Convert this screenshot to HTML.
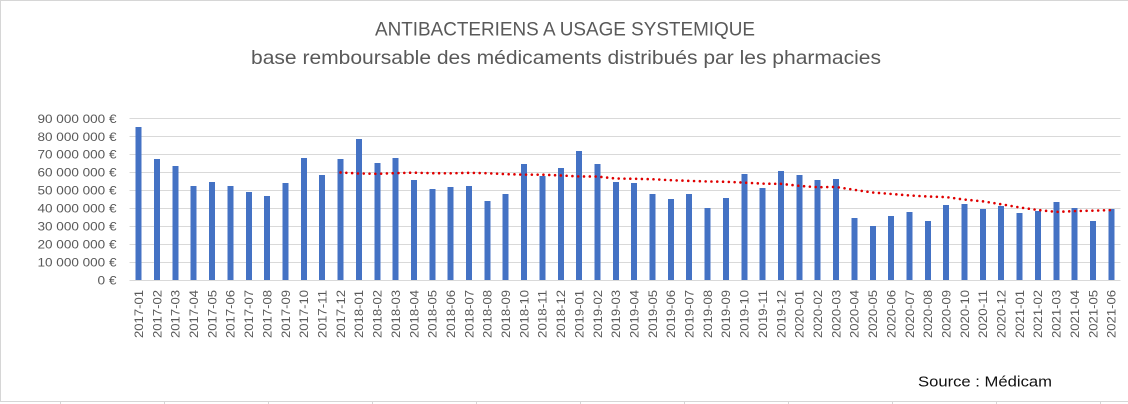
<!DOCTYPE html>
<html><head><meta charset="utf-8"><style>
html,body{margin:0;padding:0;background:#fff;}
svg{display:block;}
</style></head><body>
<svg width="1128" height="404" viewBox="0 0 1128 404" xmlns="http://www.w3.org/2000/svg">
<rect x="0" y="0" width="1128" height="404" fill="#fff"/>
<g stroke="#d6d6d6" stroke-width="1" shape-rendering="crispEdges">
<line x1="0" y1="0.5" x2="1128" y2="0.5"/>
<line x1="0.5" y1="0" x2="0.5" y2="402"/>
<line x1="0" y1="401.5" x2="1128" y2="401.5"/>
<line x1="60.5" y1="401" x2="60.5" y2="404"/>
<line x1="164.5" y1="401" x2="164.5" y2="404"/>
<line x1="268.5" y1="401" x2="268.5" y2="404"/>
<line x1="372.5" y1="401" x2="372.5" y2="404"/>
<line x1="476.5" y1="401" x2="476.5" y2="404"/>
<line x1="580.5" y1="401" x2="580.5" y2="404"/>
<line x1="684.5" y1="401" x2="684.5" y2="404"/>
<line x1="788.5" y1="401" x2="788.5" y2="404"/>
<line x1="892.5" y1="401" x2="892.5" y2="404"/>
<line x1="996.5" y1="401" x2="996.5" y2="404"/>
<line x1="1100.5" y1="401" x2="1100.5" y2="404"/>
</g>
<g font-family="'Liberation Sans', Arial, sans-serif" fill="#595959" text-anchor="middle">
<text x="565" y="35.5" font-size="19.5" textLength="380" lengthAdjust="spacingAndGlyphs">ANTIBACTERIENS A USAGE SYSTEMIQUE</text>
<text x="566" y="64" font-size="19.5" textLength="630" lengthAdjust="spacingAndGlyphs">base remboursable des médicaments distribués par les pharmacies</text>
</g>
<g stroke="#d9d9d9" stroke-width="1" shape-rendering="crispEdges">
<line x1="129.5" y1="118.5" x2="1120.5" y2="118.5"/>
<line x1="129.5" y1="136.5" x2="1120.5" y2="136.5"/>
<line x1="129.5" y1="154.5" x2="1120.5" y2="154.5"/>
<line x1="129.5" y1="172.5" x2="1120.5" y2="172.5"/>
<line x1="129.5" y1="190.5" x2="1120.5" y2="190.5"/>
<line x1="129.5" y1="208.5" x2="1120.5" y2="208.5"/>
<line x1="129.5" y1="226.5" x2="1120.5" y2="226.5"/>
<line x1="129.5" y1="244.5" x2="1120.5" y2="244.5"/>
<line x1="129.5" y1="262.5" x2="1120.5" y2="262.5"/>
<line x1="129.5" y1="280.5" x2="1120.5" y2="280.5"/>
</g>
<g font-family="'Liberation Sans', Arial, sans-serif" font-size="12" fill="#595959" text-anchor="end">
<text x="116.5" y="122.8" textLength="79" lengthAdjust="spacingAndGlyphs">90 000 000 €</text>
<text x="116.5" y="140.8" textLength="79" lengthAdjust="spacingAndGlyphs">80 000 000 €</text>
<text x="116.5" y="158.7" textLength="79" lengthAdjust="spacingAndGlyphs">70 000 000 €</text>
<text x="116.5" y="176.7" textLength="79" lengthAdjust="spacingAndGlyphs">60 000 000 €</text>
<text x="116.5" y="194.6" textLength="79" lengthAdjust="spacingAndGlyphs">50 000 000 €</text>
<text x="116.5" y="212.5" textLength="79" lengthAdjust="spacingAndGlyphs">40 000 000 €</text>
<text x="116.5" y="230.5" textLength="79" lengthAdjust="spacingAndGlyphs">30 000 000 €</text>
<text x="116.5" y="248.4" textLength="79" lengthAdjust="spacingAndGlyphs">20 000 000 €</text>
<text x="116.5" y="266.4" textLength="79" lengthAdjust="spacingAndGlyphs">10 000 000 €</text>
<text x="116.5" y="284.3" textLength="19" lengthAdjust="spacingAndGlyphs">0 €</text>
</g>
<g fill="#4472C4" shape-rendering="crispEdges">
<rect x="135.68" y="127" width="6" height="153"/>
<rect x="154.03" y="159" width="6" height="121"/>
<rect x="172.38" y="166" width="6" height="114"/>
<rect x="190.74" y="186" width="6" height="94"/>
<rect x="209.09" y="182" width="6" height="98"/>
<rect x="227.44" y="186" width="6" height="94"/>
<rect x="245.79" y="192" width="6" height="88"/>
<rect x="264.14" y="196" width="6" height="84"/>
<rect x="282.50" y="183" width="6" height="97"/>
<rect x="300.85" y="158" width="6" height="122"/>
<rect x="319.20" y="175" width="6" height="105"/>
<rect x="337.55" y="159" width="6" height="121"/>
<rect x="355.90" y="139" width="6" height="141"/>
<rect x="374.26" y="163" width="6" height="117"/>
<rect x="392.61" y="158" width="6" height="122"/>
<rect x="410.96" y="180" width="6" height="100"/>
<rect x="429.31" y="189" width="6" height="91"/>
<rect x="447.66" y="187" width="6" height="93"/>
<rect x="466.02" y="186" width="6" height="94"/>
<rect x="484.37" y="201" width="6" height="79"/>
<rect x="502.72" y="194" width="6" height="86"/>
<rect x="521.07" y="164" width="6" height="116"/>
<rect x="539.42" y="176" width="6" height="104"/>
<rect x="557.78" y="168" width="6" height="112"/>
<rect x="576.13" y="151" width="6" height="129"/>
<rect x="594.48" y="164" width="6" height="116"/>
<rect x="612.83" y="182" width="6" height="98"/>
<rect x="631.18" y="183" width="6" height="97"/>
<rect x="649.54" y="194" width="6" height="86"/>
<rect x="667.89" y="199" width="6" height="81"/>
<rect x="686.24" y="194" width="6" height="86"/>
<rect x="704.59" y="208" width="6" height="72"/>
<rect x="722.94" y="198" width="6" height="82"/>
<rect x="741.30" y="174" width="6" height="106"/>
<rect x="759.65" y="188" width="6" height="92"/>
<rect x="778.00" y="171" width="6" height="109"/>
<rect x="796.35" y="175" width="6" height="105"/>
<rect x="814.70" y="180" width="6" height="100"/>
<rect x="833.06" y="179" width="6" height="101"/>
<rect x="851.41" y="218" width="6" height="62"/>
<rect x="869.76" y="226" width="6" height="54"/>
<rect x="888.11" y="216" width="6" height="64"/>
<rect x="906.46" y="212" width="6" height="68"/>
<rect x="924.82" y="221" width="6" height="59"/>
<rect x="943.17" y="205" width="6" height="75"/>
<rect x="961.52" y="204" width="6" height="76"/>
<rect x="979.87" y="209" width="6" height="71"/>
<rect x="998.22" y="206" width="6" height="74"/>
<rect x="1016.58" y="213" width="6" height="67"/>
<rect x="1034.93" y="211" width="6" height="69"/>
<rect x="1053.28" y="202" width="6" height="78"/>
<rect x="1071.63" y="208" width="6" height="72"/>
<rect x="1089.98" y="221" width="6" height="59"/>
<rect x="1108.34" y="209" width="6" height="71"/>
</g>
<polyline fill="none" stroke="#E00000" stroke-width="2.6" stroke-linecap="round" stroke-dasharray="0 5.8" points="340.55,172.47 358.90,173.47 377.26,173.80 395.61,173.11 413.96,172.63 432.31,173.20 450.66,173.29 469.02,172.79 487.37,173.20 505.72,174.12 524.07,174.62 542.42,174.69 560.78,175.45 579.13,176.43 597.48,176.52 615.83,178.51 634.18,178.76 652.54,179.19 670.89,180.18 689.24,180.85 707.59,181.44 725.94,181.76 744.30,182.60 762.65,183.61 781.00,183.84 799.35,185.85 817.70,187.20 836.06,186.93 854.41,189.83 872.76,192.49 891.11,193.92 909.46,195.41 927.82,196.49 946.17,197.06 964.52,199.57 982.87,201.31 1001.22,204.24 1019.58,207.41 1037.93,209.98 1056.28,211.90 1074.63,211.07 1092.98,210.66 1111.34,210.07"/>
<g font-family="'Liberation Sans', Arial, sans-serif" font-size="12" fill="#595959" text-anchor="end">
<text transform="translate(143.0,290) rotate(-90)" textLength="48" lengthAdjust="spacingAndGlyphs">2017-01</text>
<text transform="translate(161.3,290) rotate(-90)" textLength="48" lengthAdjust="spacingAndGlyphs">2017-02</text>
<text transform="translate(179.7,290) rotate(-90)" textLength="48" lengthAdjust="spacingAndGlyphs">2017-03</text>
<text transform="translate(198.0,290) rotate(-90)" textLength="48" lengthAdjust="spacingAndGlyphs">2017-04</text>
<text transform="translate(216.4,290) rotate(-90)" textLength="48" lengthAdjust="spacingAndGlyphs">2017-05</text>
<text transform="translate(234.7,290) rotate(-90)" textLength="48" lengthAdjust="spacingAndGlyphs">2017-06</text>
<text transform="translate(253.1,290) rotate(-90)" textLength="48" lengthAdjust="spacingAndGlyphs">2017-07</text>
<text transform="translate(271.4,290) rotate(-90)" textLength="48" lengthAdjust="spacingAndGlyphs">2017-08</text>
<text transform="translate(289.8,290) rotate(-90)" textLength="48" lengthAdjust="spacingAndGlyphs">2017-09</text>
<text transform="translate(308.1,290) rotate(-90)" textLength="48" lengthAdjust="spacingAndGlyphs">2017-10</text>
<text transform="translate(326.5,290) rotate(-90)" textLength="48" lengthAdjust="spacingAndGlyphs">2017-11</text>
<text transform="translate(344.9,290) rotate(-90)" textLength="48" lengthAdjust="spacingAndGlyphs">2017-12</text>
<text transform="translate(363.2,290) rotate(-90)" textLength="48" lengthAdjust="spacingAndGlyphs">2018-01</text>
<text transform="translate(381.6,290) rotate(-90)" textLength="48" lengthAdjust="spacingAndGlyphs">2018-02</text>
<text transform="translate(399.9,290) rotate(-90)" textLength="48" lengthAdjust="spacingAndGlyphs">2018-03</text>
<text transform="translate(418.3,290) rotate(-90)" textLength="48" lengthAdjust="spacingAndGlyphs">2018-04</text>
<text transform="translate(436.6,290) rotate(-90)" textLength="48" lengthAdjust="spacingAndGlyphs">2018-05</text>
<text transform="translate(455.0,290) rotate(-90)" textLength="48" lengthAdjust="spacingAndGlyphs">2018-06</text>
<text transform="translate(473.3,290) rotate(-90)" textLength="48" lengthAdjust="spacingAndGlyphs">2018-07</text>
<text transform="translate(491.7,290) rotate(-90)" textLength="48" lengthAdjust="spacingAndGlyphs">2018-08</text>
<text transform="translate(510.0,290) rotate(-90)" textLength="48" lengthAdjust="spacingAndGlyphs">2018-09</text>
<text transform="translate(528.4,290) rotate(-90)" textLength="48" lengthAdjust="spacingAndGlyphs">2018-10</text>
<text transform="translate(546.7,290) rotate(-90)" textLength="48" lengthAdjust="spacingAndGlyphs">2018-11</text>
<text transform="translate(565.1,290) rotate(-90)" textLength="48" lengthAdjust="spacingAndGlyphs">2018-12</text>
<text transform="translate(583.4,290) rotate(-90)" textLength="48" lengthAdjust="spacingAndGlyphs">2019-01</text>
<text transform="translate(601.8,290) rotate(-90)" textLength="48" lengthAdjust="spacingAndGlyphs">2019-02</text>
<text transform="translate(620.1,290) rotate(-90)" textLength="48" lengthAdjust="spacingAndGlyphs">2019-03</text>
<text transform="translate(638.5,290) rotate(-90)" textLength="48" lengthAdjust="spacingAndGlyphs">2019-04</text>
<text transform="translate(656.8,290) rotate(-90)" textLength="48" lengthAdjust="spacingAndGlyphs">2019-05</text>
<text transform="translate(675.2,290) rotate(-90)" textLength="48" lengthAdjust="spacingAndGlyphs">2019-06</text>
<text transform="translate(693.5,290) rotate(-90)" textLength="48" lengthAdjust="spacingAndGlyphs">2019-07</text>
<text transform="translate(711.9,290) rotate(-90)" textLength="48" lengthAdjust="spacingAndGlyphs">2019-08</text>
<text transform="translate(730.2,290) rotate(-90)" textLength="48" lengthAdjust="spacingAndGlyphs">2019-09</text>
<text transform="translate(748.6,290) rotate(-90)" textLength="48" lengthAdjust="spacingAndGlyphs">2019-10</text>
<text transform="translate(767.0,290) rotate(-90)" textLength="48" lengthAdjust="spacingAndGlyphs">2019-11</text>
<text transform="translate(785.3,290) rotate(-90)" textLength="48" lengthAdjust="spacingAndGlyphs">2019-12</text>
<text transform="translate(803.7,290) rotate(-90)" textLength="48" lengthAdjust="spacingAndGlyphs">2020-01</text>
<text transform="translate(822.0,290) rotate(-90)" textLength="48" lengthAdjust="spacingAndGlyphs">2020-02</text>
<text transform="translate(840.4,290) rotate(-90)" textLength="48" lengthAdjust="spacingAndGlyphs">2020-03</text>
<text transform="translate(858.7,290) rotate(-90)" textLength="48" lengthAdjust="spacingAndGlyphs">2020-04</text>
<text transform="translate(877.1,290) rotate(-90)" textLength="48" lengthAdjust="spacingAndGlyphs">2020-05</text>
<text transform="translate(895.4,290) rotate(-90)" textLength="48" lengthAdjust="spacingAndGlyphs">2020-06</text>
<text transform="translate(913.8,290) rotate(-90)" textLength="48" lengthAdjust="spacingAndGlyphs">2020-07</text>
<text transform="translate(932.1,290) rotate(-90)" textLength="48" lengthAdjust="spacingAndGlyphs">2020-08</text>
<text transform="translate(950.5,290) rotate(-90)" textLength="48" lengthAdjust="spacingAndGlyphs">2020-09</text>
<text transform="translate(968.8,290) rotate(-90)" textLength="48" lengthAdjust="spacingAndGlyphs">2020-10</text>
<text transform="translate(987.2,290) rotate(-90)" textLength="48" lengthAdjust="spacingAndGlyphs">2020-11</text>
<text transform="translate(1005.5,290) rotate(-90)" textLength="48" lengthAdjust="spacingAndGlyphs">2020-12</text>
<text transform="translate(1023.9,290) rotate(-90)" textLength="48" lengthAdjust="spacingAndGlyphs">2021-01</text>
<text transform="translate(1042.2,290) rotate(-90)" textLength="48" lengthAdjust="spacingAndGlyphs">2021-02</text>
<text transform="translate(1060.6,290) rotate(-90)" textLength="48" lengthAdjust="spacingAndGlyphs">2021-03</text>
<text transform="translate(1078.9,290) rotate(-90)" textLength="48" lengthAdjust="spacingAndGlyphs">2021-04</text>
<text transform="translate(1097.3,290) rotate(-90)" textLength="48" lengthAdjust="spacingAndGlyphs">2021-05</text>
<text transform="translate(1115.6,290) rotate(-90)" textLength="48" lengthAdjust="spacingAndGlyphs">2021-06</text>
</g>
<text x="918" y="386.7" font-family="'Liberation Sans', Arial, sans-serif" font-size="15" fill="#111" textLength="134" lengthAdjust="spacingAndGlyphs">Source : Médicam</text>
</svg>
</body></html>
